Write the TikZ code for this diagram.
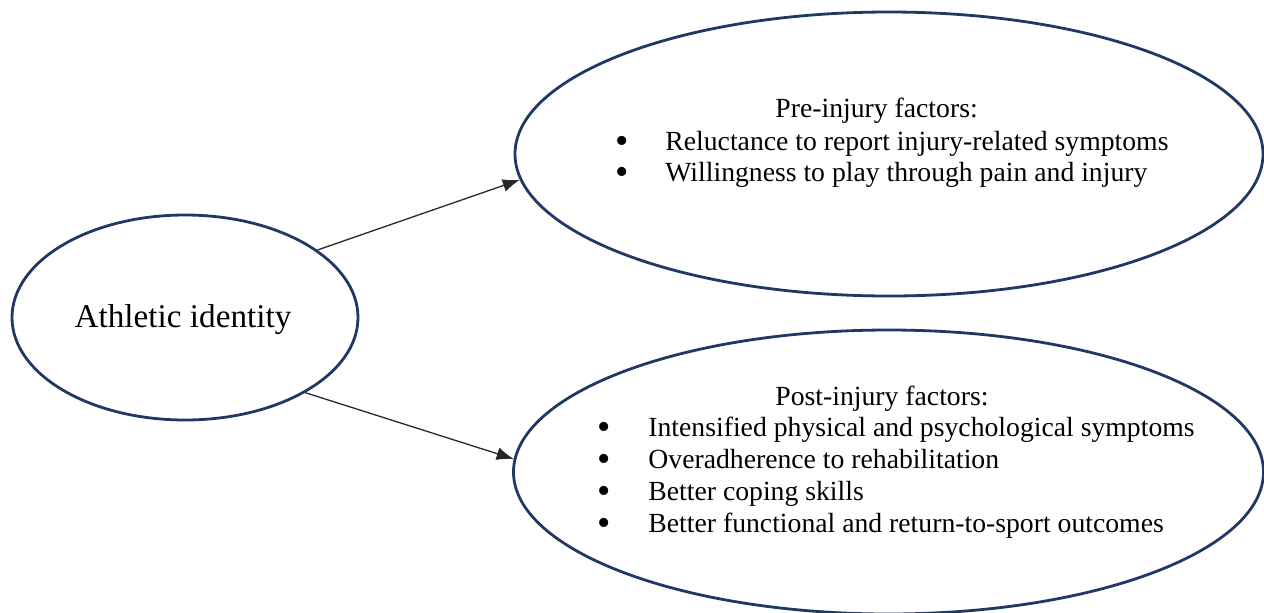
\documentclass[tikz,border=0pt]{standalone}
\usepackage{fontspec}
\setmainfont{Liberation Serif}
\usetikzlibrary{shapes.geometric,arrows.meta}
\definecolor{navy}{RGB}{31,56,100}
\definecolor{arrowgray}{RGB}{40,40,40}
\tikzset{
  oval/.style={draw=navy, line width=1.4pt, ellipse, inner sep=0pt},
  link/.style={draw=arrowgray, line width=0.65pt, -{Latex[length=8.5pt,width=6.5pt]}},
  itemtext/.style={anchor=base west, inner sep=0pt, font=\fontsize{13.85pt}{16pt}\selectfont},
  bullet/.style={anchor=base, inner sep=0pt, text height=8pt, text depth=0pt, font=\fontsize{19pt}{19pt}\selectfont},
}
\begin{document}
\begin{tikzpicture}[x=0.5pt,y=-0.5pt]
\useasboundingbox (0,0) rectangle (1264,612);
% ellipses
\node[oval, minimum width=173pt, minimum height=102.5pt] (ai) at (185,317.5) {};
\node[oval, minimum width=374pt, minimum height=142pt] (pre) at (889,154) {};
\node[oval, minimum width=375pt, minimum height=142pt] (post) at (888.5,472) {};
% center label
\node[anchor=base, inner sep=0pt, font=\fontsize{16.6pt}{19pt}\selectfont] (ailabel) at (183,327) {Athletic identity};
% pre-injury text
\node[itemtext] (prehead) at (775,117) {Pre-injury factors:};
\node[bullet] (pb1) at (622,153.5) {•};
\node[itemtext] (pt1) at (665,150) {Reluctance to report injury-related symptoms};
\node[bullet] (pb2) at (622,184.5) {•};
\node[itemtext] (pt2) at (665,181) {Willingness to play through pain and injury};
% post-injury text
\node[itemtext] (posthead) at (775,405) {Post-injury factors:};
\node[bullet] (qb1) at (604,439.5) {•};
\node[itemtext] (qt1) at (648,436) {Intensified physical and psychological symptoms};
\node[bullet] (qb2) at (604,471.5) {•};
\node[itemtext] (qt2) at (648,468) {Overadherence to rehabilitation};
\node[bullet] (qb3) at (604,503.5) {•};
\node[itemtext] (qt3) at (648,500) {Better coping skills};
\node[bullet] (qb4) at (604,535.5) {•};
\node[itemtext] (qt4) at (648,532) {Better functional and return-to-sport outcomes};
% arrows
\draw[link] (ai.27.8) -- (pre.184);
\draw[link] (ai.-32) -- (post.178.9);
\end{tikzpicture}
\end{document}
